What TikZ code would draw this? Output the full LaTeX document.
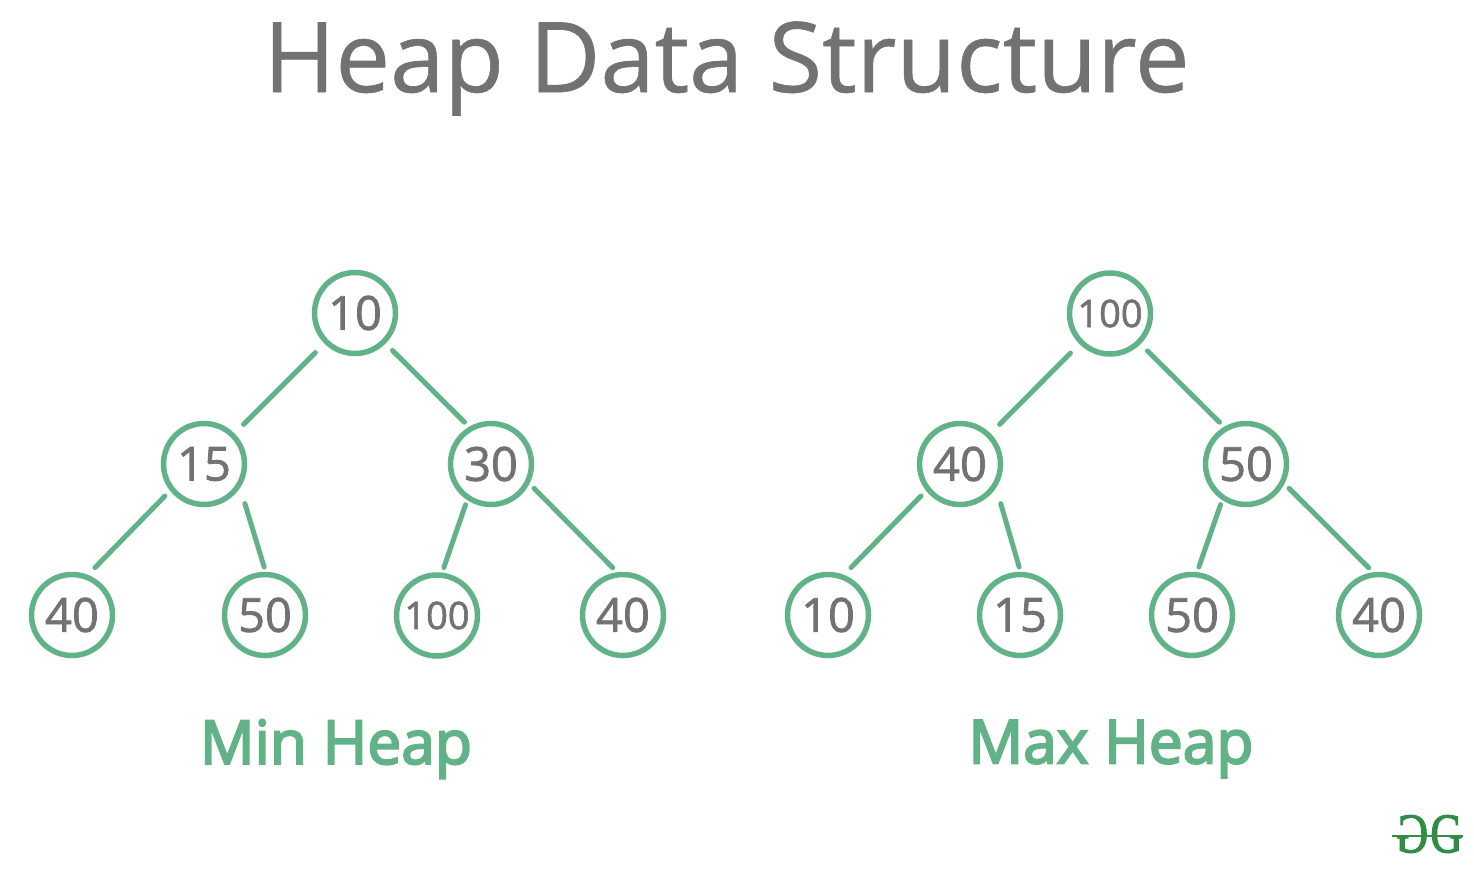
\documentclass[tikz,border=0pt]{standalone}
\usepackage{fontspec}
\setmainfont[FakeBold=0.6]{Open Sans}
\newfontfamily\numfont[FakeBold=1.6]{Open Sans}
\newfontfamily\headfont[FakeBold=3.4]{Open Sans}
\newfontfamily\logofont[FakeBold=2.2]{Liberation Serif}
\definecolor{heapgreen}{HTML}{62B288}
\definecolor{heapgray}{HTML}{727272}
\definecolor{logogreen}{HTML}{2F8D46}

\begin{document}
\begin{tikzpicture}
		[x=1pt, y=-1pt,
		heap node/.style={circle, draw=heapgreen, line width=5.5pt, minimum size=81pt, inner sep=0pt, outer sep=7.5pt, text=heapgray, font=\numfont\fontsize{47}{47}\selectfont},
		small num/.style={font=\numfont\fontsize{38}{38}\selectfont},
		heap edge/.style={draw=heapgreen, line width=5pt, line cap=round},
		title text/.style={text=heapgray, font=\fontsize{97.5}{97.5}\selectfont},
		heap label/.style={text=heapgreen, font=\headfont\fontsize{60.5}{60.5}\selectfont},
		logo part/.style={text=logogreen, inner sep=0pt, font=\logofont\fontsize{56}{56}\selectfont}]

		\useasboundingbox (0,0) rectangle (1474,870);

		\node[title text] (title) at (726.5,68.5) {Heap Data Structure};

		% min heap
		\node[heap node] (L1) at (355,313) {10};
		\node[heap node] (L2) at (204,464) {15};
		\node[heap node] (L3) at (491,464) {30};
		\node[heap node] (L4) at (72,615) {40};
		\node[heap node] (L5) at (265,615) {50};
		\node[heap node, small num] (L6) at (437,615.5) {100};
		\node[heap node] (L7) at (623,615) {40};
		\node[heap label] (minlabel) at (336,749) {Min Heap};

		% max heap
		\node[heap node, small num] (R1) at (1110,313.5) {100};
		\node[heap node] (R2) at (960,464) {40};
		\node[heap node] (R3) at (1246,464) {50};
		\node[heap node] (R4) at (828,615) {10};
		\node[heap node] (R5) at (1020,615) {15};
		\node[heap node] (R6) at (1192,615) {50};
		\node[heap node] (R7) at (1379,615) {40};
		\node[heap label] (maxlabel) at (1111,749) {Max Heap};

		% both trees have the same edges
		\foreach \s in {L, R}
			\foreach \p/\q/\ap/\aq/\sp/\sq in {1/2/-135/45/8/8, 1/3/-45/122/5/1.5,
				2/4/-141/66/2.5/5, 2/5/-38/91/10.5/0, 3/6/-122/82/0/0.5, 3/7/-29/102/1.5/0.5}
				{\draw[heap edge, shorten <=\sp pt, shorten >=\sq pt] (\s\p.\ap) -- (\s\q.\aq);}

		% logo
		\node[logo part] (logoleft) at (1412,834) {\reflectbox{\scalebox{0.8}[1]{G}}};
		\node[logo part] (logoright) at (1446.5,834) {\scalebox{0.8}[1]{G}};
		\coordinate (barleft) at (1392,836);
		\coordinate (barright) at (1463,836);
		\draw[logogreen, line width=1.8pt] (barleft) -- (barright);
\end{tikzpicture}
\end{document}
